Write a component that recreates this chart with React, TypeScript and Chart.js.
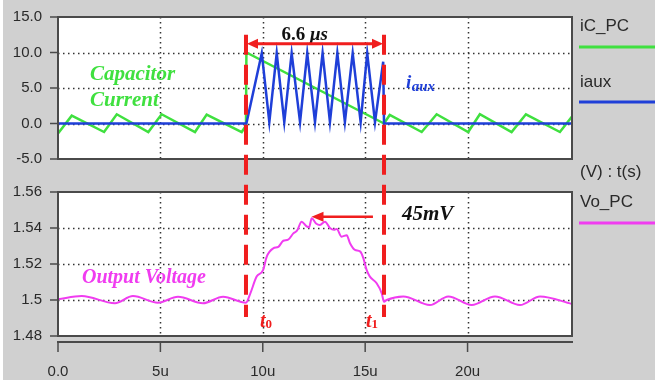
import React, { useEffect, useRef } from 'react';
import { Chart, registerables } from 'chart.js';

Chart.register(...registerables);

// ---------- data ----------
const timeTicks = [0, 5, 10, 15, 20];
const timeTickLabels = ['0.0', '5u', '10u', '15u', '20u'];
const currentTicks = [-5, 0, 5, 10, 15];
const currentTickLabels = ['-5.0', '0.0', '5.0', '10.0', '15.0'];
const voltageTicks = [1.48, 1.5, 1.52, 1.54, 1.56];
const voltageTickLabels = ['1.48', '1.5', '1.52', '1.54', '1.56'];

// capacitor current iC_PC (time in us, value in A)
const icTime = [0, 0.67, 2.25, 2.87, 4.41, 5.06, 6.69, 7.26, 8.97, 9.18, 9.2, 15.92, 16.2, 17.76, 18.49, 20.03, 20.6, 22.15, 22.85, 24.51, 25.1];
const icValue = [-1.4, 1.1, -1.2, 1.3, -1.2, 1.3, -1.2, 1.25, -1.2, -0.3, 10.0, 0.0, 1.2, -1.2, 1.3, -1.2, 1.3, -1.2, 1.3, -1.2, 1.0];

// auxiliary current iaux
const iauxTime = [0, 9.2, 9.95, 10.32, 10.68, 11.05, 11.41, 11.82, 12.17, 12.55, 12.92, 13.28, 13.64, 14.01, 14.39, 14.78, 15.1, 15.48, 15.88, 15.92, 25.1];
const iauxValue = [0, 0, 9.9, 0.2, 9.9, 0.2, 9.9, 0.2, 9.9, 0.2, 9.9, 0.2, 9.9, 0.2, 9.9, 0.2, 9.9, 0.2, 8.7, 0, 0];

// output voltage Vo_PC
const voTime = [0, 1.16, 2.78, 3.66, 4.88, 5.86, 7.08, 8.06, 9.18, 9.38, 9.7, 10.02, 10.19, 10.51, 10.76, 11.0, 11.24, 11.49, 11.67, 11.9, 12.11, 12.26, 12.39, 12.6, 12.79, 13.04, 13.28, 13.48, 13.61, 13.85, 14.1, 14.26, 14.5, 14.75, 14.91, 15.07, 15.23, 15.56, 15.81, 15.92, 16.05, 16.86, 18.16, 19.06, 20.2, 21.34, 22.56, 23.54, 25.1];
const voValue = [1.5004, 1.5022, 1.4982, 1.5022, 1.4985, 1.5018, 1.4982, 1.5018, 1.4985, 1.5033, 1.513, 1.5167, 1.524, 1.5287, 1.5295, 1.5329, 1.5335, 1.537, 1.5385, 1.5435, 1.5412, 1.5404, 1.5454, 1.5425, 1.5417, 1.5435, 1.54, 1.539, 1.5395, 1.5352, 1.536, 1.5315, 1.5278, 1.527, 1.5233, 1.5167, 1.513, 1.5093, 1.5037, 1.499, 1.5, 1.502, 1.4972, 1.502, 1.4972, 1.502, 1.4972, 1.502, 1.4978];

// interval markers
const t0 = 9.18;
const t1 = 15.92;

// ---------- style ----------
const W = 655;
const H = 381;
const GREEN = '#3fe03f';
const BLUE = '#1f3fd8';
const MAGENTA = '#f03cf0';
const RED = '#f01e1e';
const GRAY_BG = '#d0d0d0';
const FRAME = '#4a4a4a';
const GRID = '#333333';
const TEXT = '#2a2a2a';
const SANS = '"Liberation Sans", Arial, sans-serif';
const SERIF = '"Liberation Serif", "Times New Roman", serif';

function pts(time: number[], value: number[]) {
  return time.map((t, i) => ({ x: t, y: value[i] }));
}

function text(ctx: CanvasRenderingContext2D, s: string, x: number, y: number, font: string, color: string, align: CanvasTextAlign = 'left', baseline: CanvasTextBaseline = 'alphabetic') {
  ctx.font = font;
  ctx.fillStyle = color;
  ctx.textAlign = align;
  ctx.textBaseline = baseline;
  ctx.fillText(s, x, y);
  return ctx.measureText(s).width;
}

function arrowHead(ctx: CanvasRenderingContext2D, tipX: number, tipY: number, dir: number, len: number, half: number, color: string) {
  ctx.fillStyle = color;
  ctx.beginPath();
  ctx.moveTo(tipX, tipY);
  ctx.lineTo(tipX - dir * len, tipY - half);
  ctx.lineTo(tipX - dir * len, tipY + half);
  ctx.closePath();
  ctx.fill();
}

function seg(ctx: CanvasRenderingContext2D, x1: number, y1: number, x2: number, y2: number) {
  ctx.beginPath();
  ctx.moveTo(x1, y1);
  ctx.lineTo(x2, y2);
  ctx.stroke();
}

// plot background, dotted grid from the scales' ticks, tick marks and frame
const plotFrame = {
  id: 'plotFrame',
  beforeDraw(chart: any) {
    const { ctx, chartArea: a } = chart;
    ctx.save();
    ctx.fillStyle = '#ffffff';
    ctx.fillRect(a.left, a.top, a.right - a.left, a.bottom - a.top);
    ctx.restore();
  },
  beforeDatasetsDraw(chart: any) {
    const { ctx, chartArea: a } = chart;
    const xs = chart.scales.x;
    const ys = chart.scales.y;
    ctx.save();
    ctx.strokeStyle = GRID;
    ctx.lineWidth = 1.5;
    ctx.setLineDash([1.5, 3.5]);
    xs.ticks.forEach((t: any) => {
      if (t.value <= xs.min || t.value >= xs.max) return;
      const x = Math.round(xs.getPixelForValue(t.value)) + 0.5;
      seg(ctx, x, a.top, x, a.bottom);
    });
    ys.ticks.forEach((t: any) => {
      if (t.value <= ys.min || t.value >= ys.max) return;
      const y = Math.round(ys.getPixelForValue(t.value)) + 0.5;
      seg(ctx, a.left, y, a.right, y);
    });
    ctx.setLineDash([]);
    ctx.strokeStyle = FRAME;
    ctx.lineWidth = 1.5;
    ys.ticks.forEach((t: any) => {
      const y = ys.getPixelForValue(t.value);
      seg(ctx, a.left - 8, y, a.left, y);
    });
    if (xs.options.ticks.display) {
      xs.ticks.forEach((t: any) => {
        const x = xs.getPixelForValue(t.value);
        seg(ctx, x, a.bottom + 6, x, a.bottom + 16);
      });
      ctx.lineWidth = 2;
      seg(ctx, a.left - 1, a.bottom + 6, a.right + 1, a.bottom + 6);
    }
    ctx.restore();
  },
  afterDatasetsDraw(chart: any) {
    const { ctx, chartArea: a } = chart;
    ctx.save();
    ctx.strokeStyle = FRAME;
    ctx.lineWidth = 2;
    ctx.strokeRect(a.left, a.top, a.right - a.left, a.bottom - a.top);
    ctx.restore();
  },
};

function legendItem(ctx: CanvasRenderingContext2D, label: string, color: string, textY: number, lineY: number) {
  text(ctx, label, 580, textY, `17px ${SANS}`, TEXT, 'left', 'middle');
  ctx.strokeStyle = color;
  ctx.lineWidth = 3;
  seg(ctx, 579, lineY, W, lineY);
}

const hiddenGrid = { display: false, drawTicks: true, tickLength: 8 };

export default function App() {
  const topRef = useRef<HTMLCanvasElement>(null);
  const botRef = useRef<HTMLCanvasElement>(null);

  useEffect(() => {
    const topDecor = {
      id: 'topDecor',
      afterDraw(chart: any) {
        const { ctx } = chart;
        const xs = chart.scales.x;
        const ys = chart.scales.y;
        ctx.save();
        text(ctx, 'Capacitor', xs.getPixelForValue(1.56), ys.getPixelForValue(6.1), `bold italic 21px ${SERIF}`, GREEN);
        text(ctx, 'Current', xs.getPixelForValue(1.56), ys.getPixelForValue(2.5), `bold italic 21px ${SERIF}`, GREEN);
        const ix = xs.getPixelForValue(16.99);
        const iy = ys.getPixelForValue(5.0);
        const wi = text(ctx, 'i', ix, iy, `bold italic 19px ${SERIF}`, BLUE);
        text(ctx, 'aux', ix + wi + 0.5, iy + 3, `bold italic 15px ${SERIF}`, BLUE);
        const cx = xs.getPixelForValue(12.05);
        const by = ys.getPixelForValue(11.8);
        ctx.font = `bold 19px ${SERIF}`;
        const w1 = ctx.measureText('6.6 ').width;
        ctx.font = `bold italic 19px ${SERIF}`;
        const w2 = ctx.measureText('\u03bcs').width;
        const sx = cx - (w1 + w2) / 2;
        text(ctx, '6.6 ', sx, by, `bold 19px ${SERIF}`, '#111');
        text(ctx, '\u03bcs', sx + w1, by, `bold italic 19px ${SERIF}`, '#111');
        const ay = ys.getPixelForValue(11.25);
        const xa = xs.getPixelForValue(t0);
        const xb = xs.getPixelForValue(t1);
        ctx.strokeStyle = RED;
        ctx.lineWidth = 3;
        seg(ctx, xa + 8, ay, xb - 8, ay);
        arrowHead(ctx, xa + 1, ay, -1, 11, 5, RED);
        arrowHead(ctx, xb - 1, ay, 1, 11, 5, RED);
        const ds = chart.data.datasets;
        legendItem(ctx, ds[0].label, ds[0].borderColor, 26, 47);
        legendItem(ctx, ds[1].label, ds[1].borderColor, 82, 102);
        ctx.restore();
      },
    };

    const top = new Chart(topRef.current!, {
      type: 'line',
      data: {
        datasets: [
          { label: 'iC_PC', data: pts(icTime, icValue), borderColor: GREEN, borderWidth: 2.5, pointRadius: 0, tension: 0, order: 2 },
          { label: 'iaux', data: pts(iauxTime, iauxValue), borderColor: BLUE, borderWidth: 2.5, pointRadius: 0, tension: 0, order: 1 },
        ],
      },
      options: {
        responsive: false,
        animation: false,
        events: [],
        layout: { padding: { left: 8, right: 83, top: 15, bottom: 222 } },
        plugins: { legend: { display: false }, tooltip: { enabled: false } },
        scales: {
          x: {
            type: 'linear',
            min: 0,
            max: 25.1,
            afterBuildTicks: (s: any) => { s.ticks = timeTicks.map((v) => ({ value: v })); },
            afterFit: (s: any) => { s.height = 0; },
            ticks: { display: false },
            grid: hiddenGrid,
            border: { display: false },
          },
          y: {
            type: 'linear',
            min: -5,
            max: 15,
            afterBuildTicks: (s: any) => { s.ticks = currentTicks.map((v) => ({ value: v })); },
            afterFit: (s: any) => { s.width = 50; },
            ticks: { callback: (_v: any, i: number) => currentTickLabels[i], font: { family: SANS, size: 15 }, color: TEXT, padding: 8 },
            grid: hiddenGrid,
            border: { display: false },
          },
        },
      },
      plugins: [plotFrame, topDecor],
    } as any);

    const botDecor = {
      id: 'botDecor',
      afterDraw(chart: any) {
        const { ctx } = chart;
        const xs = chart.scales.x;
        const ys = chart.scales.y;
        ctx.save();
        text(ctx, 'Output Voltage', xs.getPixelForValue(1.17), ys.getPixelForValue(1.5096), `bold italic 20px ${SERIF}`, MAGENTA);
        text(ctx, '45mV', xs.getPixelForValue(16.8), ys.getPixelForValue(1.5444), `bold italic 21px ${SERIF}`, '#111');
        const ay = ys.getPixelForValue(1.5463);
        const tipX = xs.getPixelForValue(12.38);
        const tailX = xs.getPixelForValue(15.38);
        ctx.strokeStyle = RED;
        ctx.lineWidth = 2.5;
        seg(ctx, tailX, ay, tipX + 10, ay);
        arrowHead(ctx, tipX, ay, -1, 12, 5, RED);
        const yTop = top.scales.y.getPixelForValue(12.5);
        const yBot = ys.getPixelForValue(1.4906);
        ctx.strokeStyle = RED;
        ctx.lineWidth = 4;
        ctx.setLineDash([20, 10]);
        [t0, t1].forEach((t) => {
          const x = xs.getPixelForValue(t);
          seg(ctx, x, yTop, x, yBot);
        });
        ctx.setLineDash([]);
        const ly = ys.getPixelForValue(1.485);
        [[9.86, '0'], [15.04, '1']].forEach(([tv, sub]) => {
          const x = xs.getPixelForValue(tv as number);
          const wt = text(ctx, 't', x, ly, `bold italic 20px ${SERIF}`, RED);
          text(ctx, sub as string, x + wt, ly + 1, `bold 13px ${SERIF}`, RED);
        });
        text(ctx, '(V) : t(s)', 580, 172, `17px ${SANS}`, TEXT, 'left', 'middle');
        const ds = chart.data.datasets;
        legendItem(ctx, ds[0].label, ds[0].borderColor, 202, 223);
        ctx.restore();
      },
    };

    const bot = new Chart(botRef.current!, {
      type: 'line',
      data: {
        datasets: [
          { label: 'Vo_PC', data: pts(voTime, voValue), borderColor: MAGENTA, borderWidth: 2, pointRadius: 0, cubicInterpolationMode: 'monotone' },
        ],
      },
      options: {
        responsive: false,
        animation: false,
        events: [],
        layout: { padding: { left: 8, right: 83, top: 192, bottom: 5 } },
        plugins: { legend: { display: false }, tooltip: { enabled: false } },
        scales: {
          x: {
            type: 'linear',
            min: 0,
            max: 25.1,
            afterBuildTicks: (s: any) => { s.ticks = timeTicks.map((v) => ({ value: v })); },
            afterFit: (s: any) => { s.height = 40; },
            ticks: { display: true, callback: (_v: any, i: number) => timeTickLabels[i], font: { family: SANS, size: 15 }, color: TEXT, padding: 19, maxRotation: 0, autoSkip: false },
            grid: hiddenGrid,
            border: { display: false },
          },
          y: {
            type: 'linear',
            min: 1.48,
            max: 1.56,
            afterBuildTicks: (s: any) => { s.ticks = voltageTicks.map((v) => ({ value: v })); },
            afterFit: (s: any) => { s.width = 50; },
            ticks: { callback: (_v: any, i: number) => voltageTickLabels[i], font: { family: SANS, size: 15 }, color: TEXT, padding: 8 },
            grid: hiddenGrid,
            border: { display: false },
          },
        },
      },
      plugins: [plotFrame, botDecor],
    } as any);

    return () => {
      bot.destroy();
      top.destroy();
    };
  }, []);

  return (
    <div style={{ position: 'fixed', left: 0, top: 0, width: W, height: H, background: '#ffffff', overflow: 'hidden' }}>
      <div style={{ position: 'absolute', left: 3, top: 0, width: W - 3, height: H - 1, background: GRAY_BG }} />
      <canvas ref={topRef} width={W} height={H} style={{ position: 'absolute', left: 0, top: 0, width: W, height: H }} />
      <canvas ref={botRef} width={W} height={H} style={{ position: 'absolute', left: 0, top: 0, width: W, height: H }} />
    </div>
  );
}
